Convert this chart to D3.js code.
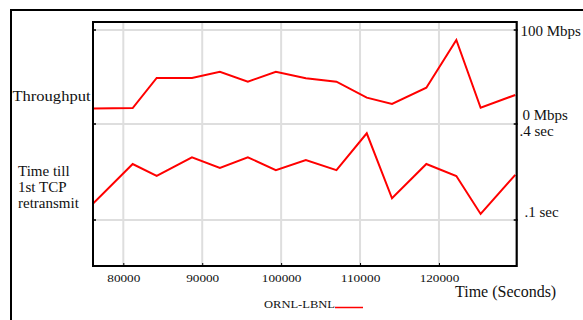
<!DOCTYPE html>
<html>
<head>
<meta charset="utf-8">
<script src="https://cdn.jsdelivr.net/npm/d3@7"></script>
<style>
  html, body { margin: 0; padding: 0; background: #fff; }
  svg { display: block; }
  text { font-family: "Liberation Serif", "Times New Roman", serif; fill: #111; }
</style>
</head>
<body>
<svg id="chart" width="583" height="320"></svg>
<script>
// Sample times (seconds) shared by both series
const times = [76200, 81190, 84230, 88700, 92240, 95780, 99330, 103130, 107010, 110850, 114050, 118400, 122200, 125280, 129670];
// Throughput (Mbps)
const throughput = [16.5, 17, 49, 49, 55.6, 45, 55.6, 48.6, 45, 28, 21.3, 38.6, 89.4, 17.3, 30.9];
// Time until first TCP retransmit (sec)
const retransmit = [0.152, 0.275, 0.238, 0.296, 0.263, 0.296, 0.256, 0.2875, 0.256, 0.371, 0.168, 0.275, 0.2375, 0.119, 0.241];
const xTicks = [80000, 90000, 100000, 110000, 120000];
const seriesName = "ORNL-LBNL";

const svg = d3.select("#chart");
const plot = { left: 93, right: 516.7, top: 22, bottom: 266 };

const x = d3.scaleLinear().domain([76160, 129850]).range([plot.left, plot.right]);
const yThr = d3.scaleLinear().domain([0, 100]).range([124, 30]);
const yRet = d3.scaleLinear().domain([0.1, 0.4]).range([220, 124]);

// outer frame
svg.append("rect").attr("x", 11).attr("y", 10).attr("width", 620).attr("height", 400)
  .attr("fill", "none").attr("stroke", "#000").attr("stroke-width", 2);

// grid
const grid = svg.append("g").attr("stroke", "#dedede").attr("stroke-width", 2);
grid.selectAll("line.gv").data(xTicks).join("line").attr("class", "gv")
  .attr("x1", d => x(d)).attr("x2", d => x(d))
  .attr("y1", plot.top).attr("y2", plot.bottom);
const hLines = [yThr(100), yThr(0), yRet(0.1)];
grid.selectAll("line.gh").data(hLines).join("line").attr("class", "gh")
  .attr("x1", plot.left).attr("x2", plot.right)
  .attr("y1", d => d).attr("y2", d => d);

// clip for series
svg.append("clipPath").attr("id", "clip").append("rect")
  .attr("x", plot.left).attr("y", plot.top)
  .attr("width", plot.right - plot.left).attr("height", plot.bottom - plot.top);

const lineThr = d3.line().x((d, i) => x(times[i])).y(d => yThr(d));
const lineRet = d3.line().x((d, i) => x(times[i])).y(d => yRet(d));
const series = svg.append("g").attr("clip-path", "url(#clip)");
series.append("path").datum(throughput).attr("d", lineThr)
  .attr("fill", "none").attr("stroke", "#ff0000").attr("stroke-width", 2).attr("stroke-linejoin", "miter");
series.append("path").datum(retransmit).attr("d", lineRet)
  .attr("fill", "none").attr("stroke", "#ff0000").attr("stroke-width", 2).attr("stroke-linejoin", "miter");

// plot frame (top, left, bottom, right)
const frame = svg.append("g").attr("stroke", "#000").attr("fill", "none");
frame.append("path")
  .attr("d", `M${plot.right},${plot.top}H${plot.left}V${plot.bottom}H${plot.right}`)
  .attr("stroke-width", 2);
frame.append("line").attr("x1", plot.right).attr("x2", plot.right)
  .attr("y1", plot.top - 1).attr("y2", plot.bottom + 1).attr("stroke-width", 2.2);

// small ticks on left and right axes
frame.selectAll("line.lt").data(hLines).join("line").attr("class", "lt")
  .attr("x1", plot.left).attr("x2", plot.left + 3).attr("y1", d => d).attr("y2", d => d).attr("stroke-width", 1.5);
frame.selectAll("line.rt").data(hLines).join("line").attr("class", "rt")
  .attr("x1", plot.right - 3).attr("x2", plot.right + 1).attr("y1", d => d).attr("y2", d => d).attr("stroke-width", 1.5);

// bottom axis
const xAxis = d3.axisBottom(x).tickValues(xTicks).tickSizeInner(-3).tickSizeOuter(0)
  .tickPadding(9).tickFormat(d3.format("d"));
const gx = svg.append("g").attr("transform", `translate(0,${plot.bottom})`).call(xAxis);
gx.select(".domain").remove();
gx.selectAll(".tick line").attr("stroke", "#000").attr("stroke-width", 1);
gx.selectAll(".tick text")
  .attr("font-family", "Liberation Serif, serif").attr("font-size", 10).attr("fill", "#222")
  .attr("textLength", d => String(d).length * 6.6).attr("lengthAdjust", "spacingAndGlyphs");

// right axis labels
const rightLabels = [
  { t: "100 Mbps", x: 520.5, y: 35.5 },
  { t: "0 Mbps", x: 522.5, y: 120 },
  { t: ".4 sec", x: 519.5, y: 135.5 },
  { t: ".1 sec", x: 524.5, y: 216.5 }
];
svg.selectAll("text.rl").data(rightLabels).join("text").attr("class", "rl")
  .attr("x", d => d.x).attr("y", d => d.y).attr("font-size", 15).text(d => d.t);

// left panel labels
svg.append("text").attr("x", 12.5).attr("y", 100.5).attr("font-size", 15)
  .attr("textLength", 78).attr("lengthAdjust", "spacingAndGlyphs").text("Throughput");
const retLines = ["Time till", "1st TCP", "retransmit"];
svg.selectAll("text.ret").data(retLines).join("text").attr("class", "ret")
  .attr("x", 18).attr("y", (d, i) => 176 + i * 16).attr("font-size", 15).text(d => d);

// x axis title
svg.append("text").attr("x", 455).attr("y", 296.5).attr("font-size", 16).text("Time (Seconds)");

// legend
svg.append("text").attr("x", 264).attr("y", 308.3).attr("font-size", 9.5).attr("fill", "#222")
  .attr("textLength", 71).attr("lengthAdjust", "spacingAndGlyphs").text(seriesName);
svg.append("line").attr("x1", 335).attr("x2", 363).attr("y1", 307.5).attr("y2", 307.5)
  .attr("stroke", "#ff0000").attr("stroke-width", 1.5);
</script>
</body>
</html>
